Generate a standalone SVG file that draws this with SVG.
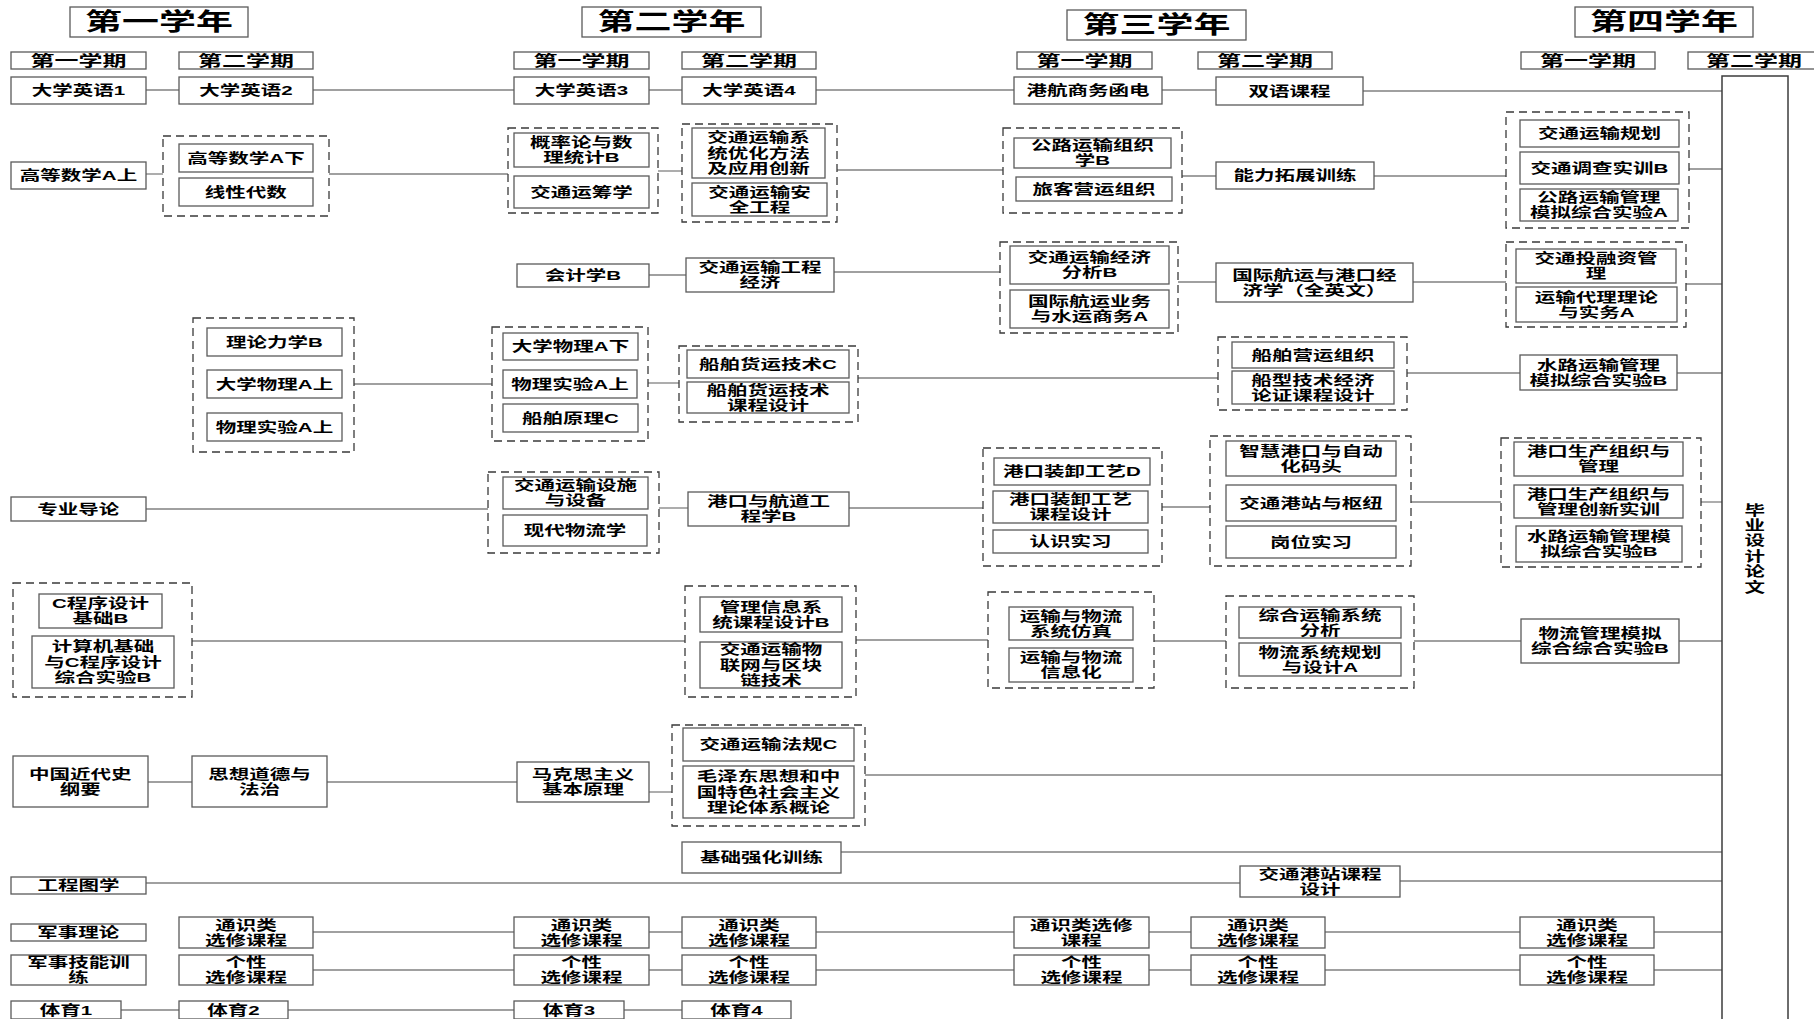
<svg xmlns="http://www.w3.org/2000/svg" width="1814" height="1019" viewBox="0 0 1814 1019">
<style>
.box{fill:#fff;stroke:#5a5a5a;stroke-width:1.3}
.grp{fill:none;stroke:#3a3a3a;stroke-width:1.3;stroke-dasharray:8 5}
.c line{stroke:#808080;stroke-width:1.3}
.grad{fill:#fff;stroke:#3c3c3c;stroke-width:1.5}
text{font-family:"Liberation Sans","Noto Sans CJK SC",sans-serif;font-weight:700;fill:#000;text-anchor:middle;dominant-baseline:central;transform-box:fill-box;transform-origin:center}
.t{font-size:13.5px;transform:scaleX(1.52)}
.sem{font-size:15px;transform:scaleX(1.6)}
.yr{font-size:24px;transform:scaleX(1.54)}
</style>
<rect width="1814" height="1019" fill="#fff"/>

<g id="connectors" class="c">
<line x1="146" y1="90" x2="179" y2="90"/><line x1="313" y1="90" x2="514" y2="90"/><line x1="649" y1="90" x2="682" y2="90"/><line x1="816" y1="90" x2="1014" y2="90"/><line x1="1162" y1="90" x2="1216" y2="90"/><line x1="1363" y1="91" x2="1722" y2="91"/>
<line x1="146" y1="174" x2="163" y2="174"/><line x1="329" y1="174" x2="508" y2="174"/><line x1="658" y1="171" x2="682" y2="171"/><line x1="837" y1="170" x2="1003" y2="170"/><line x1="1182" y1="176" x2="1216" y2="176"/><line x1="1374" y1="176" x2="1506" y2="176"/><line x1="1689" y1="169" x2="1722" y2="169"/>
<line x1="649" y1="275" x2="686" y2="275"/><line x1="834" y1="272" x2="1000" y2="272"/><line x1="1178" y1="282" x2="1216" y2="282"/><line x1="1413" y1="282" x2="1506" y2="282"/><line x1="1686" y1="284" x2="1722" y2="284"/>
<line x1="354" y1="384" x2="492" y2="384"/><line x1="648" y1="383" x2="679" y2="383"/><line x1="858" y1="378" x2="1218" y2="378"/><line x1="1407" y1="373" x2="1520" y2="373"/><line x1="1677" y1="373" x2="1722" y2="373"/>
<line x1="146" y1="509" x2="488" y2="509"/><line x1="659" y1="508" x2="688" y2="508"/><line x1="849" y1="508" x2="983" y2="508"/><line x1="1162" y1="507" x2="1210" y2="507"/><line x1="1411" y1="502" x2="1501" y2="502"/><line x1="1701" y1="502" x2="1722" y2="502"/>
<line x1="192" y1="641" x2="685" y2="641"/><line x1="856" y1="640" x2="988" y2="640"/><line x1="1154" y1="641" x2="1226" y2="641"/><line x1="1414" y1="641" x2="1521" y2="641"/><line x1="1679" y1="641" x2="1722" y2="641"/>
<line x1="148" y1="782" x2="192" y2="782"/><line x1="327" y1="782" x2="517" y2="782"/><line x1="649" y1="792" x2="672" y2="792"/><line x1="865" y1="775" x2="1722" y2="775"/>
<line x1="841" y1="852" x2="1722" y2="852"/>
<line x1="146" y1="883" x2="1240" y2="883"/><line x1="1400" y1="881" x2="1722" y2="881"/>
<line x1="313" y1="932" x2="514" y2="932"/><line x1="649" y1="932" x2="682" y2="932"/><line x1="816" y1="932" x2="1014" y2="932"/><line x1="1149" y1="932" x2="1191" y2="932"/><line x1="1325" y1="932" x2="1520" y2="932"/><line x1="1654" y1="932" x2="1722" y2="932"/>
<line x1="313" y1="970" x2="514" y2="970"/><line x1="649" y1="970" x2="682" y2="970"/><line x1="816" y1="970" x2="1014" y2="970"/><line x1="1149" y1="970" x2="1191" y2="970"/><line x1="1325" y1="970" x2="1520" y2="970"/><line x1="1654" y1="970" x2="1722" y2="970"/>
<line x1="121" y1="1010" x2="179" y2="1010"/><line x1="288" y1="1010" x2="514" y2="1010"/><line x1="624" y1="1010" x2="682" y2="1010"/>
</g>

<g id="headers">
<g id="y1"><rect class="box" x="70" y="7" width="178" height="30"/><text class="yr" x="159" y="22">第一学年</text></g>
<g id="y2"><rect class="box" x="582" y="7" width="179" height="30"/><text class="yr" x="671.5" y="22">第二学年</text></g>
<g id="y3"><rect class="box" x="1067" y="10" width="179" height="30"/><text class="yr" x="1156.5" y="25">第三学年</text></g>
<g id="y4"><rect class="box" x="1575" y="7" width="178" height="30"/><text class="yr" x="1664" y="22">第四学年</text></g>
<g id="s11"><rect class="box" x="11" y="52" width="135" height="17"/><text class="sem" x="78.5" y="60.5">第一学期</text></g>
<g id="s12"><rect class="box" x="179" y="52" width="134" height="17"/><text class="sem" x="246" y="60.5">第二学期</text></g>
<g id="s21"><rect class="box" x="514" y="52" width="135" height="17"/><text class="sem" x="581.5" y="60.5">第一学期</text></g>
<g id="s22"><rect class="box" x="682" y="52" width="134" height="17"/><text class="sem" x="749" y="60.5">第二学期</text></g>
<g id="s31"><rect class="box" x="1017" y="52" width="135" height="17"/><text class="sem" x="1084.5" y="60.5">第一学期</text></g>
<g id="s32"><rect class="box" x="1198" y="52" width="134" height="17"/><text class="sem" x="1265" y="60.5">第二学期</text></g>
<g id="s41"><rect class="box" x="1521" y="52" width="134" height="17"/><text class="sem" x="1588" y="60.5">第一学期</text></g>
<g id="s42"><rect class="box" x="1688" y="52" width="132" height="17"/><text class="sem" x="1754" y="60.5">第二学期</text></g>
</g>

<g id="groups">
<rect id="g1" class="grp" x="163" y="136" width="166" height="80"/>
<rect id="g2" class="grp" x="508" y="128" width="150" height="85"/>
<rect id="g3" class="grp" x="682" y="124" width="155" height="98"/>
<rect id="g4" class="grp" x="1003" y="128" width="179" height="85"/>
<rect id="g5" class="grp" x="1506" y="112" width="183" height="116"/>
<rect id="g6" class="grp" x="1000" y="242" width="178" height="91"/>
<rect id="g7" class="grp" x="1506" y="242" width="180" height="85"/>
<rect id="g8" class="grp" x="193" y="318" width="161" height="134"/>
<rect id="g9" class="grp" x="492" y="327" width="156" height="114"/>
<rect id="g10" class="grp" x="679" y="346" width="179" height="76"/>
<rect id="g11" class="grp" x="1218" y="337" width="189" height="73"/>
<rect id="g12" class="grp" x="488" y="472" width="171" height="81"/>
<rect id="g13" class="grp" x="983" y="448" width="179" height="118"/>
<rect id="g14" class="grp" x="1210" y="436" width="201" height="130"/>
<rect id="g15" class="grp" x="1501" y="438" width="200" height="129"/>
<rect id="g16" class="grp" x="13" y="583" width="179" height="114"/>
<rect id="g17" class="grp" x="685" y="586" width="171" height="111"/>
<rect id="g18" class="grp" x="988" y="592" width="166" height="96"/>
<rect id="g19" class="grp" x="1226" y="596" width="188" height="92"/>
<rect id="g20" class="grp" x="672" y="725" width="193" height="101"/>
</g>

<g id="nodes">
<g id="eng1"><rect class="box" x="11" y="77" width="135" height="27"/><text class="t" x="78.5" y="90.5">大学英语1</text></g>
<g id="eng2"><rect class="box" x="179" y="77" width="134" height="27"/><text class="t" x="246" y="90.5">大学英语2</text></g>
<g id="eng3"><rect class="box" x="514" y="77" width="135" height="27"/><text class="t" x="581.5" y="90.5">大学英语3</text></g>
<g id="eng4"><rect class="box" x="682" y="77" width="134" height="27"/><text class="t" x="749" y="90.5">大学英语4</text></g>
<g id="ghsw"><rect class="box" x="1014" y="77" width="148" height="27"/><text class="t" x="1088" y="90.5">港航商务函电</text></g>
<g id="sykc"><rect class="box" x="1216" y="77" width="147" height="28"/><text class="t" x="1289.5" y="91">双语课程</text></g>

<g id="gs1"><rect class="box" x="11" y="162" width="135" height="27"/><text class="t" x="78.5" y="175.5">高等数学A上</text></g>
<g id="gs2"><rect class="box" x="179" y="144" width="134" height="28"/><text class="t" x="246" y="158">高等数学A下</text></g>
<g id="xxds"><rect class="box" x="179" y="178" width="134" height="28"/><text class="t" x="246" y="192">线性代数</text></g>
<g id="gll"><rect class="box" x="514" y="133" width="135" height="34"/><text class="t"><tspan x="581.5" y="142.4">概率论与数</tspan><tspan x="581.5" dy="15.2">理统计B</tspan></text></g>
<g id="jtyc"><rect class="box" x="514" y="176" width="135" height="32"/><text class="t" x="581.5" y="192">交通运筹学</text></g>
<g id="xtyh"><rect class="box" x="692" y="128" width="133" height="50"/><text class="t"><tspan x="758.5" y="137.8">交通运输系</tspan><tspan x="758.5" dy="15.2">统优化方法</tspan><tspan x="758.5" dy="15.2">及应用创新</tspan></text></g>
<g id="aqgc"><rect class="box" x="692" y="183" width="135" height="33"/><text class="t"><tspan x="759.5" y="191.9">交通运输安</tspan><tspan x="759.5" dy="15.2">全工程</tspan></text></g>
<g id="glzz"><rect class="box" x="1014" y="138" width="157" height="30"/><text class="t"><tspan x="1092.5" y="145.4">公路运输组织</tspan><tspan x="1092.5" dy="15.2">学B</tspan></text></g>
<g id="lkyy"><rect class="box" x="1016" y="177" width="156" height="24"/><text class="t" x="1094" y="189">旅客营运组织</text></g>
<g id="nltz"><rect class="box" x="1216" y="162" width="158" height="27"/><text class="t" x="1295" y="175.5">能力拓展训练</text></g>
<g id="jtgh"><rect class="box" x="1520" y="120" width="159" height="27"/><text class="t" x="1599.5" y="133.5">交通运输规划</text></g>
<g id="jtdc"><rect class="box" x="1520" y="152" width="159" height="32"/><text class="t" x="1599.5" y="168">交通调查实训B</text></g>
<g id="glmn"><rect class="box" x="1520" y="189" width="158" height="32"/><text class="t"><tspan x="1599" y="197.4">公路运输管理</tspan><tspan x="1599" dy="15.2">模拟综合实验A</tspan></text></g>

<g id="kjx"><rect class="box" x="517" y="264" width="132" height="23"/><text class="t" x="583" y="275.5">会计学B</text></g>
<g id="gcjj"><rect class="box" x="686" y="258" width="148" height="34"/><text class="t"><tspan x="760" y="267.4">交通运输工程</tspan><tspan x="760" dy="15.2">经济</tspan></text></g>
<g id="jjfx"><rect class="box" x="1010" y="246" width="159" height="38"/><text class="t"><tspan x="1089.5" y="257.4">交通运输经济</tspan><tspan x="1089.5" dy="15.2">分析B</tspan></text></g>
<g id="gjhy"><rect class="box" x="1010" y="290" width="159" height="38"/><text class="t"><tspan x="1089.5" y="301.4">国际航运业务</tspan><tspan x="1089.5" dy="15.2">与水运商务A</tspan></text></g>
<g id="gjjj"><rect class="box" x="1216" y="263" width="197" height="39"/><text class="t"><tspan x="1314.5" y="274.9">国际航运与港口经</tspan><tspan x="1314.5" dy="15.2">济学（全英文）</tspan></text></g>
<g id="trz"><rect class="box" x="1516" y="249" width="160" height="34"/><text class="t"><tspan x="1596" y="258.4">交通投融资管</tspan><tspan x="1596" dy="15.2">理</tspan></text></g>
<g id="ysdl"><rect class="box" x="1516" y="287" width="161" height="35"/><text class="t"><tspan x="1596.5" y="296.9">运输代理理论</tspan><tspan x="1596.5" dy="15.2">与实务A</tspan></text></g>

<g id="lllx"><rect class="box" x="207" y="328" width="135" height="28"/><text class="t" x="274.5" y="342">理论力学B</text></g>
<g id="dwl1"><rect class="box" x="207" y="370" width="135" height="28"/><text class="t" x="274.5" y="384">大学物理A上</text></g>
<g id="wlsy1"><rect class="box" x="207" y="413" width="135" height="28"/><text class="t" x="274.5" y="427">物理实验A上</text></g>
<g id="dwl2"><rect class="box" x="503" y="333" width="135" height="27"/><text class="t" x="570.5" y="346.5">大学物理A下</text></g>
<g id="wlsy2"><rect class="box" x="503" y="370" width="134" height="28"/><text class="t" x="570" y="384">物理实验A上</text></g>
<g id="cbyl"><rect class="box" x="503" y="404" width="135" height="28"/><text class="t" x="570.5" y="418">船舶原理C</text></g>
<g id="cbhy"><rect class="box" x="687" y="350" width="162" height="28"/><text class="t" x="768" y="364">船舶货运技术C</text></g>
<g id="cbhysj"><rect class="box" x="687" y="382" width="162" height="31"/><text class="t"><tspan x="768" y="389.9">船舶货运技术</tspan><tspan x="768" dy="15.2">课程设计</tspan></text></g>
<g id="cbyy"><rect class="box" x="1232" y="342" width="162" height="26"/><text class="t" x="1313" y="355">船舶营运组织</text></g>
<g id="cxjs"><rect class="box" x="1232" y="371" width="162" height="33"/><text class="t"><tspan x="1313" y="379.9">船型技术经济</tspan><tspan x="1313" dy="15.2">论证课程设计</tspan></text></g>
<g id="slmn1"><rect class="box" x="1520" y="355" width="157" height="35"/><text class="t"><tspan x="1598.5" y="364.9">水路运输管理</tspan><tspan x="1598.5" dy="15.2">模拟综合实验B</tspan></text></g>

<g id="zydl"><rect class="box" x="11" y="497" width="135" height="24"/><text class="t" x="78.5" y="509">专业导论</text></g>
<g id="jtss"><rect class="box" x="503" y="477" width="145" height="32"/><text class="t"><tspan x="575.5" y="485.4">交通运输设施</tspan><tspan x="575.5" dy="15.2">与设备</tspan></text></g>
<g id="xdwl"><rect class="box" x="503" y="515" width="144" height="31"/><text class="t" x="575" y="530.5">现代物流学</text></g>
<g id="gkhd"><rect class="box" x="688" y="492" width="161" height="34"/><text class="t"><tspan x="768.5" y="501.4">港口与航道工</tspan><tspan x="768.5" dy="15.2">程学B</tspan></text></g>
<g id="zxgy"><rect class="box" x="994" y="458" width="156" height="27"/><text class="t" x="1072" y="471.5">港口装卸工艺D</text></g>
<g id="zxsj"><rect class="box" x="993" y="491" width="155" height="32"/><text class="t"><tspan x="1070.5" y="499.4">港口装卸工艺</tspan><tspan x="1070.5" dy="15.2">课程设计</tspan></text></g>
<g id="rssx"><rect class="box" x="993" y="530" width="155" height="23"/><text class="t" x="1070.5" y="541.5">认识实习</text></g>
<g id="zhgk"><rect class="box" x="1226" y="441" width="170" height="35"/><text class="t"><tspan x="1311" y="450.9">智慧港口与自动</tspan><tspan x="1311" dy="15.2">化码头</tspan></text></g>
<g id="gzsn"><rect class="box" x="1226" y="485" width="170" height="36"/><text class="t" x="1311" y="503">交通港站与枢纽</text></g>
<g id="gwsx"><rect class="box" x="1226" y="526" width="170" height="32"/><text class="t" x="1311" y="542">岗位实习</text></g>
<g id="gksc1"><rect class="box" x="1514" y="442" width="169" height="34"/><text class="t"><tspan x="1598.5" y="451.4">港口生产组织与</tspan><tspan x="1598.5" dy="15.2">管理</tspan></text></g>
<g id="gksc2"><rect class="box" x="1514" y="485" width="169" height="33"/><text class="t"><tspan x="1598.5" y="493.9">港口生产组织与</tspan><tspan x="1598.5" dy="15.2">管理创新实训</tspan></text></g>
<g id="slmn2"><rect class="box" x="1516" y="526" width="166" height="36"/><text class="t"><tspan x="1599" y="536.4">水路运输管理模</tspan><tspan x="1599" dy="15.2">拟综合实验B</tspan></text></g>

<g id="cxsj"><rect class="box" x="39" y="594" width="123" height="34"/><text class="t"><tspan x="100.5" y="603.4">C程序设计</tspan><tspan x="100.5" dy="15.2">基础B</tspan></text></g>
<g id="jsj"><rect class="box" x="32" y="636" width="142" height="52"/><text class="t"><tspan x="103" y="646.8">计算机基础</tspan><tspan x="103" dy="15.2">与C程序设计</tspan><tspan x="103" dy="15.2">综合实验B</tspan></text></g>
<g id="glxx"><rect class="box" x="700" y="597" width="142" height="35"/><text class="t"><tspan x="771" y="606.9">管理信息系</tspan><tspan x="771" dy="15.2">统课程设计B</tspan></text></g>
<g id="wlw"><rect class="box" x="700" y="642" width="142" height="46"/><text class="t"><tspan x="771" y="649.8">交通运输物</tspan><tspan x="771" dy="15.2">联网与区块</tspan><tspan x="771" dy="15.2">链技术</tspan></text></g>
<g id="wlfz"><rect class="box" x="1009" y="607" width="124" height="33"/><text class="t"><tspan x="1071" y="615.9">运输与物流</tspan><tspan x="1071" dy="15.2">系统仿真</tspan></text></g>
<g id="wlxx"><rect class="box" x="1009" y="648" width="124" height="34"/><text class="t"><tspan x="1071" y="657.4">运输与物流</tspan><tspan x="1071" dy="15.2">信息化</tspan></text></g>
<g id="zhys"><rect class="box" x="1239" y="607" width="162" height="31"/><text class="t"><tspan x="1320" y="614.9">综合运输系统</tspan><tspan x="1320" dy="15.2">分析</tspan></text></g>
<g id="wlgh"><rect class="box" x="1239" y="643" width="162" height="33"/><text class="t"><tspan x="1320" y="651.9">物流系统规划</tspan><tspan x="1320" dy="15.2">与设计A</tspan></text></g>
<g id="wlgl"><rect class="box" x="1521" y="619" width="158" height="44"/><text class="t"><tspan x="1600" y="633.4">物流管理模拟</tspan><tspan x="1600" dy="15.2">综合综合实验B</tspan></text></g>

<g id="zgjds"><rect class="box" x="13" y="756" width="135" height="51"/><text class="t"><tspan x="80.5" y="773.9">中国近代史</tspan><tspan x="80.5" dy="15.2">纲要</tspan></text></g>
<g id="sxdd"><rect class="box" x="192" y="756" width="135" height="51"/><text class="t"><tspan x="259.5" y="773.9">思想道德与</tspan><tspan x="259.5" dy="15.2">法治</tspan></text></g>
<g id="mks"><rect class="box" x="517" y="762" width="132" height="40"/><text class="t"><tspan x="583" y="774.4">马克思主义</tspan><tspan x="583" dy="15.2">基本原理</tspan></text></g>
<g id="jtfg"><rect class="box" x="683" y="728" width="171" height="33"/><text class="t" x="768.5" y="744.5">交通运输法规C</text></g>
<g id="mzd"><rect class="box" x="683" y="766" width="171" height="52"/><text class="t"><tspan x="768.5" y="776.8">毛泽东思想和中</tspan><tspan x="768.5" dy="15.2">国特色社会主义</tspan><tspan x="768.5" dy="15.2">理论体系概论</tspan></text></g>
<g id="jcqh"><rect class="box" x="682" y="842" width="159" height="31"/><text class="t" x="761.5" y="857.5">基础强化训练</text></g>

<g id="gctx"><rect class="box" x="11" y="877" width="135" height="17"/><text class="t" x="78.5" y="885.5">工程图学</text></g>
<g id="gzkc"><rect class="box" x="1240" y="866" width="160" height="31"/><text class="t"><tspan x="1320" y="873.9">交通港站课程</tspan><tspan x="1320" dy="15.2">设计</tspan></text></g>

<g id="jsll"><rect class="box" x="11" y="924" width="135" height="17"/><text class="t" x="78.5" y="932.5">军事理论</text></g>
<g id="ts12"><rect class="box" x="179" y="917" width="134" height="31"/><text class="t"><tspan x="246" y="924.9">通识类</tspan><tspan x="246" dy="15.2">选修课程</tspan></text></g>
<g id="ts21"><rect class="box" x="514" y="917" width="135" height="31"/><text class="t"><tspan x="581.5" y="924.9">通识类</tspan><tspan x="581.5" dy="15.2">选修课程</tspan></text></g>
<g id="ts22"><rect class="box" x="682" y="917" width="134" height="31"/><text class="t"><tspan x="749" y="924.9">通识类</tspan><tspan x="749" dy="15.2">选修课程</tspan></text></g>
<g id="ts31"><rect class="box" x="1014" y="917" width="135" height="31"/><text class="t"><tspan x="1081.5" y="924.9">通识类选修</tspan><tspan x="1081.5" dy="15.2">课程</tspan></text></g>
<g id="ts32"><rect class="box" x="1191" y="917" width="134" height="31"/><text class="t"><tspan x="1258" y="924.9">通识类</tspan><tspan x="1258" dy="15.2">选修课程</tspan></text></g>
<g id="ts41"><rect class="box" x="1520" y="917" width="134" height="31"/><text class="t"><tspan x="1587" y="924.9">通识类</tspan><tspan x="1587" dy="15.2">选修课程</tspan></text></g>

<g id="jsjn"><rect class="box" x="11" y="955" width="135" height="30"/><text class="t"><tspan x="78.5" y="962.4">军事技能训</tspan><tspan x="78.5" dy="15.2">练</tspan></text></g>
<g id="gx12"><rect class="box" x="179" y="955" width="134" height="30"/><text class="t"><tspan x="246" y="962.4">个性</tspan><tspan x="246" dy="15.2">选修课程</tspan></text></g>
<g id="gx21"><rect class="box" x="514" y="955" width="135" height="30"/><text class="t"><tspan x="581.5" y="962.4">个性</tspan><tspan x="581.5" dy="15.2">选修课程</tspan></text></g>
<g id="gx22"><rect class="box" x="682" y="955" width="134" height="30"/><text class="t"><tspan x="749" y="962.4">个性</tspan><tspan x="749" dy="15.2">选修课程</tspan></text></g>
<g id="gx31"><rect class="box" x="1014" y="955" width="135" height="30"/><text class="t"><tspan x="1081.5" y="962.4">个性</tspan><tspan x="1081.5" dy="15.2">选修课程</tspan></text></g>
<g id="gx32"><rect class="box" x="1191" y="955" width="134" height="30"/><text class="t"><tspan x="1258" y="962.4">个性</tspan><tspan x="1258" dy="15.2">选修课程</tspan></text></g>
<g id="gx41"><rect class="box" x="1520" y="955" width="134" height="30"/><text class="t"><tspan x="1587" y="962.4">个性</tspan><tspan x="1587" dy="15.2">选修课程</tspan></text></g>

<g id="ty1"><rect class="box" x="11" y="1001" width="110" height="18"/><text class="t" x="66" y="1010">体育1</text></g>
<g id="ty2"><rect class="box" x="179" y="1001" width="109" height="18"/><text class="t" x="233.5" y="1010">体育2</text></g>
<g id="ty3"><rect class="box" x="514" y="1001" width="110" height="18"/><text class="t" x="569" y="1010">体育3</text></g>
<g id="ty4"><rect class="box" x="682" y="1001" width="109" height="18"/><text class="t" x="736.5" y="1010">体育4</text></g>

<g id="bysj"><rect class="grad" x="1722" y="76" width="66" height="960"/><text class="t"><tspan x="1755" y="510">毕</tspan><tspan x="1755" dy="15.4">业</tspan><tspan x="1755" dy="15.4">设</tspan><tspan x="1755" dy="15.4">计</tspan><tspan x="1755" dy="15.4">论</tspan><tspan x="1755" dy="15.4">文</tspan></text></g>
</g>
</svg>
